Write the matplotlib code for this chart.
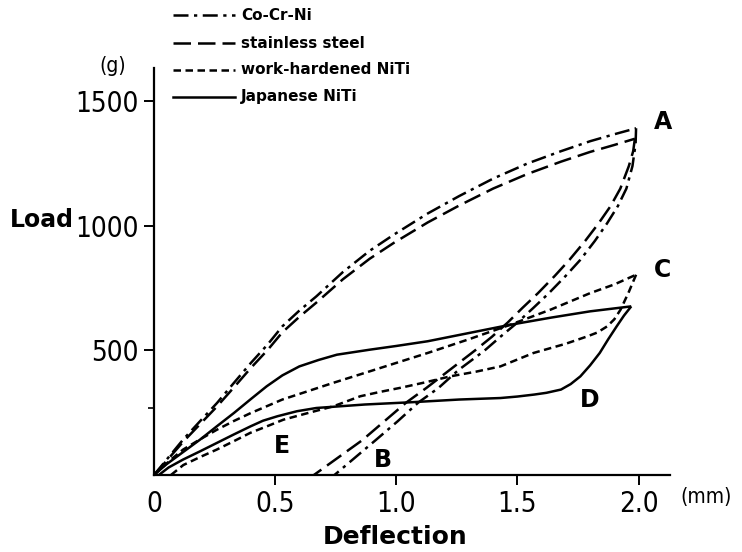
import matplotlib
matplotlib.use("Agg")
import matplotlib.pyplot as plt
from matplotlib.lines import Line2D
from matplotlib import font_manager as fm

# ---- data ----
cocr_load_x = [0, 0.06, 0.12, 0.19, 0.26, 0.33, 0.40, 0.47, 0.53, 0.60, 0.67, 0.78, 0.89, 0.99, 1.13, 1.26, 1.40, 1.54, 1.68, 1.80, 1.90, 1.99]
cocr_load_y = [0, 71, 142, 216, 289, 370, 450, 525, 597, 660, 717, 815, 900, 965, 1050, 1120, 1190, 1250, 1300, 1340, 1368, 1392]
cocr_unload_x = [1.99, 1.988, 1.975, 1.95, 1.915, 1.87, 1.82, 1.76, 1.70, 1.63, 1.565, 1.50, 1.43, 1.365, 1.255, 1.175, 1.09, 1.005, 0.915, 0.83, 0.745]
cocr_unload_y = [1392, 1330, 1240, 1150, 1080, 1010, 940, 864, 800, 730, 670, 612, 555, 500, 420, 350, 290, 215, 140, 70, 0]

ss_load_x = [0, 0.06, 0.12, 0.19, 0.26, 0.33, 0.40, 0.47, 0.53, 0.60, 0.67, 0.78, 0.89, 0.99, 1.13, 1.26, 1.40, 1.54, 1.68, 1.80, 1.90, 1.985]
ss_load_y = [0, 66, 133, 204, 275, 352, 430, 503, 573, 635, 692, 786, 868, 932, 1014, 1082, 1150, 1208, 1258, 1297, 1325, 1350]
ss_unload_x = [1.985, 1.978, 1.96, 1.925, 1.885, 1.835, 1.78, 1.715, 1.655, 1.585, 1.52, 1.46, 1.395, 1.325, 1.205, 1.125, 1.04, 0.95, 0.86, 0.76, 0.66]
ss_unload_y = [1350, 1300, 1240, 1150, 1080, 1010, 940, 864, 800, 730, 670, 612, 555, 500, 410, 350, 290, 215, 140, 70, 0]

wh_load_x = [0, 0.025, 0.07, 0.12, 0.19, 0.26, 0.33, 0.40, 0.47, 0.53, 0.64, 0.74, 0.89, 1.0, 1.13, 1.30, 1.47, 1.64, 1.80, 1.90, 1.99]
wh_load_y = [0, 22, 62, 102, 143, 182, 217, 249, 278, 303, 338, 370, 416, 450, 490, 545, 603, 665, 730, 765, 804]
wh_unload_x = [1.99, 1.96, 1.926, 1.90, 1.871, 1.83, 1.79, 1.70, 1.567, 1.43, 1.33, 1.223, 1.12, 1.017, 0.93, 0.851, 0.741, 0.64, 0.534, 0.47, 0.397, 0.33, 0.259, 0.19, 0.121, 0.07]
wh_unload_y = [804, 735, 664, 625, 597, 572, 557, 527, 490, 436, 415, 396, 372, 350, 333, 316, 276, 250, 222, 197, 169, 136, 102, 72, 40, 0]

jp_load_x = [0, 0.05, 0.12, 0.19, 0.26, 0.33, 0.40, 0.465, 0.53, 0.60, 0.68, 0.755, 0.89, 1.0, 1.13, 1.30, 1.47, 1.64, 1.80, 1.97]
jp_load_y = [0, 42, 92, 142, 196, 249, 305, 356, 400, 436, 462, 483, 503, 518, 537, 570, 603, 632, 657, 677]
jp_unload_x = [1.97, 1.94, 1.91, 1.875, 1.84, 1.80, 1.76, 1.72, 1.68, 1.62, 1.57, 1.50, 1.43, 1.26, 1.06, 0.87, 0.67, 0.59, 0.51, 0.45, 0.40, 0.33, 0.26, 0.19, 0.12, 0.06, 0.02]
jp_unload_y = [677, 640, 597, 545, 490, 440, 396, 365, 343, 330, 323, 315, 309, 303, 292, 283, 269, 256, 236, 218, 196, 163, 129, 95, 62, 30, 0]

series_names = ["Co-Cr-Ni", "stainless steel", "work-hardened NiTi", "Japanese NiTi"]
x_ticks = [0, 0.5, 1.0, 1.5, 2.0]
x_tick_labels = ["0", "0.5", "1.0", "1.5", "2.0"]
y_ticks = [500, 1000, 1500]
y_tick_labels = ["500", "1000", "1500"]
point_labels = ["A", "B", "C", "D", "E"]
point_label_x = [2.10, 0.945, 2.098, 1.80, 0.53]
point_label_y = [1418, 62, 824, 303, 115]

# ---- fonts: look for a condensed/narrow face for the numbers ----
cond_prop = None
for f in fm.fontManager.ttflist:
    nm = (f.name + " " + f.fname).lower()
    if ("condensed" in nm or "narrow" in nm) and "bold" not in nm and "oblique" not in nm \
            and "italic" not in nm and "light" not in nm and "semi" not in nm:
        cond_prop = fm.FontProperties(fname=f.fname)
        break
if cond_prop is not None:
    num_size = 20
else:
    cond_prop = fm.FontProperties(family="DejaVu Sans")
    num_size = 17

# ---- styles ----
LW = 1.8
styles = {
    "Co-Cr-Ni": (0, (6, 2.2, 1.3, 2.2)),
    "stainless steel": (0, (7, 2.8)),
    "work-hardened NiTi": (0, (3, 1.8)),
    "Japanese NiTi": "-",
}

W, H = 742, 552
fig = plt.figure(figsize=(W / 100, H / 100), dpi=100)
fig.patch.set_facecolor("white")

ax_l, ax_r, ax_b, ax_t = 154, 670, 475, 68
ax = fig.add_axes([ax_l / W, 1 - ax_b / H, (ax_r - ax_l) / W, (ax_b - ax_t) / H])
ax.set_xlim(0, 2.13)
ax.set_ylim(0, 1634)

data = [
    ("Co-Cr-Ni", cocr_load_x, cocr_load_y, cocr_unload_x, cocr_unload_y),
    ("stainless steel", ss_load_x, ss_load_y, ss_unload_x, ss_unload_y),
    ("work-hardened NiTi", wh_load_x, wh_load_y, wh_unload_x, wh_unload_y),
    ("Japanese NiTi", jp_load_x, jp_load_y, jp_unload_x, jp_unload_y),
]
for name, lx, ly, ux, uy in data:
    ax.plot(lx, ly, color="black", lw=LW, linestyle=styles[name], clip_on=False,
            solid_capstyle="butt", dash_capstyle="butt")
    ax.plot(ux, uy, color="black", lw=LW, linestyle=styles[name], clip_on=False,
            solid_capstyle="butt", dash_capstyle="butt")

for lab, lx_, ly_ in zip(point_labels, point_label_x, point_label_y):
    ax.text(lx_, ly_, lab, fontsize=17, fontweight="bold", family="DejaVu Sans",
            ha="center", va="center")

# spines / ticks
for s in ["top", "right"]:
    ax.spines[s].set_visible(False)
ax.spines["left"].set_linewidth(1.6)
ax.spines["bottom"].set_linewidth(1.6)

ax.set_xticks(x_ticks)
ax.set_xticklabels(x_tick_labels)
ax.set_yticks(y_ticks)
ax.set_yticklabels(y_tick_labels)
ax.set_yticks([270], minor=True)
ax.tick_params(axis="both", which="major", direction="out", length=7, width=1.4, pad=4)
ax.tick_params(axis="y", which="minor", direction="out", length=4, width=1.2)
for t in ax.get_xticklabels() + ax.get_yticklabels():
    t.set_fontproperties(cond_prop)
    t.set_fontsize(num_size)
ax.xaxis.get_major_ticks()[0].tick1line.set_visible(False)

# axis texts
def ftext(px, py, s, **kw):
    return fig.text(px / W, 1 - py / H, s, **kw)

ftext(42, 220, "Load", fontsize=17, fontweight="bold", family="DejaVu Sans", ha="center", va="center")
ftext(395, 537, "Deflection", fontsize=18, fontweight="bold", family="DejaVu Sans", ha="center", va="center")
t = ftext(113, 66, "(g)", ha="center", va="center")
t.set_fontproperties(cond_prop); t.set_fontsize(15)
t = ftext(706, 497, "(mm)", ha="center", va="center")
t.set_fontproperties(cond_prop); t.set_fontsize(15)

# legend drawn manually
leg_rows = [15, 43, 70, 97]
for name, py in zip(series_names, leg_rows):
    fig.add_artist(Line2D([173 / W, 235 / W], [1 - py / H, 1 - py / H], color="black",
                          lw=LW, linestyle=styles[name], transform=fig.transFigure,
                          dash_capstyle="butt"))
    ftext(241, py, name, fontsize=11, fontweight="bold", family="DejaVu Sans", ha="left", va="center")

fig.savefig("out.png", dpi=100, facecolor="white")
